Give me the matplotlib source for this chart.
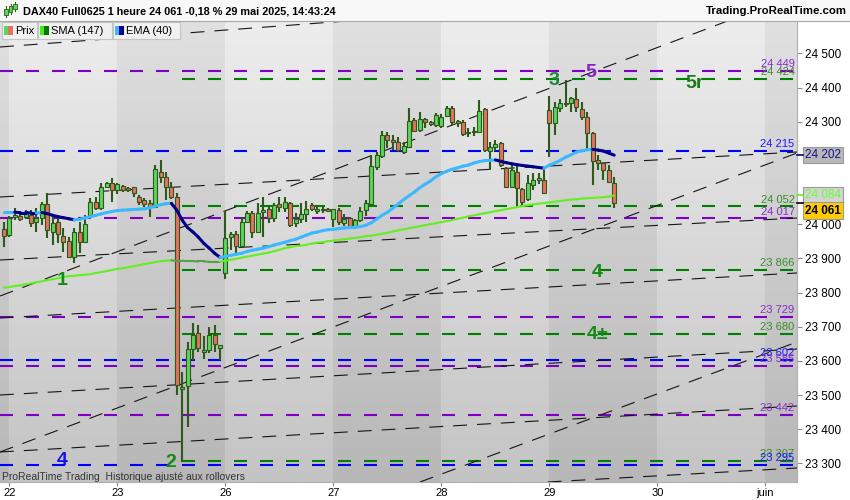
import numpy as np
import matplotlib.pyplot as plt
from matplotlib.patches import Rectangle
from matplotlib.collections import LineCollection

plt.rcParams['font.family'] = ['Liberation Sans', 'DejaVu Sans']

# hourly candles, DAX40 Full0625
opens = [23985, 23968, 24020, 24023, 24020, 24026, 24006, 24018, 24059, 23977,
         24006, 23965, 23950, 23903, 23977, 23947, 24026, 24064, 24047, 24108,
         24120, 24100, 24111, 24105, 24108, 24079, 24070, 24061, 24050, 24152,
         24138, 24108, 24079, 23517, 23526, 23634, 23681, 23625, 23631, 23675,
         23637, 23857, 23962, 23971, 23936, 24006, 24032, 23977, 24035, 24044,
         24018, 24059, 24047, 24061, 24003, 24015, 24029, 24056, 24038, 24044,
         24044, 24015, 24041, 24003, 24018, 23991, 24012, 24041, 24059, 24167,
         24199, 24260, 24246, 24240, 24211, 24225, 24304, 24275, 24307, 24298,
         24290, 24287, 24316, 24340, 24301, 24298, 24266, 24269, 24269, 24336,
         24214, 24225, 24237, 24164, 24108, 24152, 24102, 24073, 24114, 24129,
         24129, 24334, 24296, 24339, 24351, 24354, 24366, 24336, 24313, 24266,
         24187, 24179, 24158, 24120]
highs = [24006, 24023, 24047, 24038, 24041, 24041, 24047, 24064, 24091, 24020,
         24018, 23988, 23962, 23988, 24006, 24026, 24076, 24079, 24120, 24123,
         24135, 24120, 24114, 24108, 24108, 24085, 24076, 24070, 24173, 24187,
         24152, 24123, 24091, 23567, 23655, 23710, 23704, 23672, 23698, 23704,
         23646, 24038, 23977, 23980, 24020, 24038, 24038, 24061, 24079, 24050,
         24061, 24079, 24079, 24064, 24032, 24061, 24067, 24061, 24056, 24050,
         24047, 24044, 24047, 24029, 24020, 24015, 24050, 24070, 24202, 24211,
         24272, 24269, 24260, 24255, 24240, 24339, 24310, 24328, 24310, 24301,
         24325, 24322, 24345, 24345, 24305, 24304, 24281, 24284, 24363, 24339,
         24240, 24246, 24240, 24167, 24173, 24173, 24105, 24143, 24149, 24149,
         24158, 24375, 24357, 24366, 24421, 24372, 24398, 24357, 24328, 24269,
         24202, 24179, 24173, 24138]
lows = [23933, 23962, 24012, 24009, 24015, 23991, 23977, 23997, 23959, 23939,
        23944, 23918, 23903, 23886, 23915, 23947, 24020, 24041, 24041, 24105,
        24064, 24088, 24094, 24094, 24079, 24056, 24050, 24020, 24047, 24120,
        24070, 24073, 23499, 23303, 23406, 23602, 23625, 23605, 23622, 23625,
        23602, 23839, 23924, 23915, 23933, 24003, 23959, 23974, 23962, 24003,
        24006, 24035, 24035, 23991, 23991, 24003, 24006, 24038, 24029, 24032,
        24035, 23991, 23997, 23994, 23991, 23985, 24006, 24023, 24056, 24158,
        24193, 24222, 24217, 24211, 24205, 24222, 24269, 24269, 24281, 24287,
        24284, 24281, 24313, 24290, 24284, 24257, 24255, 24258, 24266, 24211,
        24158, 24214, 24167, 24105, 24105, 24050, 24050, 24067, 24100, 24117,
        24088, 24196, 24260, 24328, 24342, 24328, 24328, 24304, 24217, 24114,
        24158, 24129, 24120, 24047]
closes = [23965, 24018, 24026, 24015, 24032, 24003, 24018, 24059, 23982, 24003,
          23971, 23947, 23903, 23977, 23947, 24000, 24064, 24047, 24108, 24120,
          24100, 24117, 24100, 24100, 24091, 24064, 24059, 24050, 24161, 24138,
          24108, 24079, 23529, 23523, 23634, 23675, 23637, 23631, 23675, 23649,
          23646, 23959, 23971, 23936, 24006, 24032, 23977, 24032, 24041, 24018,
          24056, 24050, 24064, 23997, 24015, 24029, 24044, 24044, 24044, 24041,
          24038, 24044, 24006, 24015, 23994, 24012, 24038, 24061, 24170, 24202,
          24260, 24246, 24240, 24217, 24228, 24301, 24272, 24307, 24298, 24292,
          24319, 24313, 24340, 24298, 24296, 24263, 24269, 24272, 24331, 24217,
          24225, 24234, 24173, 24108, 24158, 24105, 24064, 24120, 24129, 24135,
          24091, 24296, 24342, 24354, 24354, 24369, 24342, 24313, 24266, 24184,
          24179, 24158, 24123, 24061]

ema40 = [24035, 24035, 24035, 24034, 24034, 24033, 24033, 24034, 24031, 24026,
         24022, 24019, 24016, 24013, 24014, 24018, 24022, 24026, 24030, 24034,
         24037, 24040, 24041, 24042, 24043, 24044, 24045, 24048, 24053, 24057,
         24060, 24061, 24041, 24012, 23990, 23977, 23962, 23944, 23930, 23915,
         23903, 23905, 23909, 23912, 23915, 23920, 23924, 23927, 23930, 23934,
         23939, 23943, 23947, 23952, 23956, 23962, 23968, 23974, 23977, 23981,
         23984, 23985, 23987, 23989, 23990, 23991, 23993, 23997, 24004, 24015,
         24026, 24035, 24047, 24059, 24072, 24083, 24094, 24107, 24117, 24127,
         24139, 24148, 24155, 24161, 24165, 24170, 24173, 24179, 24183, 24186,
         24187, 24188, 24184, 24180, 24177, 24174, 24172, 24170, 24168, 24166,
         24164, 24173, 24179, 24187, 24196, 24203, 24211, 24215, 24218, 24219,
         24217, 24214, 24208, 24202]
sma147 = [23814, 23816, 23819, 23821, 23824, 23827, 23830, 23833, 23836, 23839,
          23842, 23845, 23848, 23849, 23851, 23852, 23854, 23857, 23860, 23863,
          23866, 23869, 23871, 23874, 23877, 23880, 23883, 23886, 23889, 23892,
          23893, 23894, 23893, 23893, 23892, 23892, 23891, 23891, 23890, 23890,
          23890, 23893, 23896, 23899, 23902, 23905, 23908, 23911, 23914, 23917,
          23921, 23925, 23930, 23933, 23936, 23937, 23940, 23943, 23946, 23947,
          23950, 23952, 23954, 23956, 23958, 23960, 23962, 23965, 23966, 23969,
          23972, 23975, 23979, 23982, 23985, 23988, 23991, 23994, 23997, 24000,
          24003, 24006, 24009, 24012, 24016, 24019, 24023, 24026, 24029, 24032,
          24035, 24038, 24041, 24044, 24047, 24050, 24053, 24056, 24058, 24060,
          24062, 24064, 24066, 24068, 24070, 24072, 24073, 24075, 24076, 24077,
          24078, 24079, 24081, 24084]

day_ticks = [1, 21, 41, 61, 81, 101, 121, 141]
day_labels = ['22', '23', '26', '27', '28', '29', '30', 'juin']

# horizontal levels: value, kind (p=purple, g=green, b=blue)
levels = [24449, 24424, 24215, 24052, 24017, 23866, 23729, 23680, 23602, 23585, 23442, 23307, 23295]
level_kind = ['p', 'g', 'b', 'g', 'p', 'g', 'p', 'g', 'b', 'p', 'p', 'g', 'b']
green_start = 33

# trend lines, two points each (candle index, price)
trend_lines = [((-0.74, 24518.6), (60.93, 24591.8)),
               ((-0.74, 24079.6), (146.85, 24211.3)),
               ((-0.74, 23789.8), (133.5, 24591.8)),
               ((-0.74, 23895.2), (146.85, 24018.1)),
               ((-0.74, 23333.3), (146.85, 24208.4)),
               ((-0.74, 23500.1), (146.85, 23634.7)),
               ((-0.74, 23725.5), (146.85, 23857.2)),
               ((-0.74, 23333.3), (146.85, 23467.9)),
               ((77.04, 23245.5), (146.85, 23655.2)),
               ((97.41, 23242.6), (146.85, 23286.5))]

# wave count labels: text, x, y (baseline), colour
waves = [('1', 10.7, 23822, '#138a13'), ('2', 30.9, 23289, '#138a13'),
         ('4', 10.7, 23295, '#1414e6'), ('3', 101.8, 24407, '#1a8a3a'),
         ('5', 108.7, 24431, '#8a22c8'), ('5r', 127.8, 24398, '#1a7a1a'),
         ('4', 109.9, 23845, '#138a13'), ('4±', 109.9, 23664, '#138a13')]

line_col = {'p': '#7d00c4', 'g': '#008000', 'b': '#0000ff'}
text_col = {'p': '#8a2bd0', 'g': '#3c8c28', 'b': '#1a1aff'}

W, H = 850, 500
fig = plt.figure(figsize=(8.5, 5), dpi=100, facecolor='white')
ax = fig.add_axes([0, 18 / H, 797 / W, 461 / H])
xmin, xmax = -0.74, 146.85
ymin, ymax = 23245.5, 24594.7

def fy(py):
    return 1 - py / H

# shaded day bands with vertical gradient
edges = [xmin] + day_ticks + [xmax]
t = np.linspace(0, 1, 200).reshape(-1, 1, 1)
for k in range(len(edges) - 1):
    top, bot = (224, 183) if k % 2 == 0 else (237, 196)
    img = np.repeat((top + (bot - top) * t) / 255.0, 3, axis=2)
    ax.imshow(img, extent=[edges[k], edges[k + 1], ymin, ymax], aspect='auto',
              origin='upper', zorder=0, interpolation='bilinear')

# horizontal dashed levels
for lv, kd in zip(levels, level_kind):
    x0 = green_start if kd == 'g' else xmin
    ax.plot([x0, 146.1], [lv, lv], color=line_col[kd], lw=1.5,
            linestyle=(0, (6.24, 6.24)), zorder=2, dash_capstyle='butt')
    ax.annotate(f'{lv:,}'.replace(',', ' '), xy=(146.4, lv), xytext=(0, 2.8),
                textcoords='offset points', ha='right', va='baseline',
                fontsize=8, color=text_col[kd], zorder=6)

# black dashed trend lines
for p1, p2 in trend_lines:
    ax.axline(p1, p2, color='#151515', lw=0.8, linestyle=(0, (12.5, 9)), zorder=3)

# candles
x = np.arange(len(opens))
o, h, l, c = map(np.array, (opens, highs, lows, closes))
edge = '#2d5a1a'
ax.vlines(x, l, h, color=edge, lw=1.5, zorder=4)
up = c >= o
body_lo = np.minimum(o, c)
body_h = np.maximum(np.abs(c - o), 3)
ax.bar(x, body_h, bottom=body_lo, width=0.72,
       color=np.where(up, '#5ad65a', '#e8705f'), edgecolor=edge, linewidth=0.8, zorder=5)

# moving averages coloured by slope
def ma_lines(vals, c_up, c_dn, lw):
    v = np.array(vals, dtype=float)
    pts = np.column_stack([x, v])
    segs = [pts[i:i + 2] for i in range(len(v) - 1)]
    cols, last = [], c_up
    for i in range(len(v) - 1):
        d = v[i + 1] - v[i]
        if d > 0:
            last = c_up
        elif d < 0:
            last = c_dn
        cols.append(last)
    ax.add_collection(LineCollection(segs, colors=cols, linewidths=lw,
                                     capstyle='round', joinstyle='round', zorder=7))

ma_lines(sma147, '#66ee22', '#5a9e48', 1.5)
ma_lines(ema40, '#3cb8ff', '#000088', 2.2)

for txt, wx, wy, col in waves:
    ax.text(wx, wy, txt, ha='center', va='baseline', fontsize=14,
            fontweight='bold', color=col, zorder=8)

ax.set_xlim(xmin, xmax)
ax.set_ylim(ymin, ymax)

# axes
ax.set_xticks(day_ticks)
ax.set_xticklabels(day_labels)
yt = [23300, 23400, 23500, 23600, 23700, 23800, 23900, 24000, 24300, 24400, 24500]
ax.set_yticks(yt)
ax.set_yticklabels([f'{v:,}'.replace(',', ' ') for v in yt])
for lab, v in zip(ax.get_yticklabels(), yt):
    if v % 500 == 0:
        lab.set_fontweight('bold')
ax.yaxis.tick_right()
ax.tick_params(axis='y', length=3.6, width=0.8, color='#888888', pad=2, labelsize=8.5)
ax.tick_params(axis='x', length=3, width=0.8, color='#888888', pad=1.5, labelsize=8)
for s in ['left', 'top']:
    ax.spines[s].set_visible(False)
for s in ['right', 'bottom']:
    ax.spines[s].set_color('#b0b0b0')

# last-value boxes on the price scale (the lower one pushed down to avoid overlap)
boxes = [(24202, '#14148c', '#b8b8b8', 'normal', 0, '#000088'),
         (24084, '#66ff33', '#d4d4d4', 'normal', 0, '#66ee22'),
         (24061, '#000000', '#ffcc00', 'bold', -5.2, '#000000')]
for val, tc, bc, fw, dy, mc in boxes:
    ax.annotate(f'{val:,}'.replace(',', ' '), xy=(1, val), xycoords=('axes fraction', 'data'),
                xytext=(5.8, dy), textcoords='offset points', ha='left', va='center',
                fontsize=8.5, color=tc, fontweight=fw, annotation_clip=False,
                bbox=dict(boxstyle='square,pad=0.18', fc=bc, ec='#9a9a9a', lw=0.8))
    ax.plot([1, 1.0075], [val, val], transform=ax.get_yaxis_transform(), color=mc,
            lw=1.2, clip_on=False, zorder=9)

# header bar
fig.add_artist(Rectangle((0, fy(21)), 1, 21 / H, transform=fig.transFigure,
                         fc='#f8f8f8', ec='none', zorder=10))
fig.add_artist(plt.Line2D([0, 1], [fy(21), fy(21)], transform=fig.transFigure,
                          color='#a8a8a8', lw=0.8, zorder=11))
for cx, y0, y1, b0, b1 in [(6, 6, 17, 9, 15), (10.5, 4, 14, 6, 12), (15, 2, 11, 4, 9)]:
    fig.add_artist(plt.Line2D([cx / W, cx / W], [fy(y1), fy(y0)], transform=fig.transFigure,
                              color='#2d5a1a', lw=0.8, zorder=11))
    fig.add_artist(Rectangle(((cx - 1.6) / W, fy(b1)), 3.2 / W, (b1 - b0) / H,
                             transform=fig.transFigure, fc='#5ad65a', ec='#2d5a1a',
                             lw=0.6, zorder=12))
fig.text(23 / W, fy(11), 'DAX40 Full0625 1 heure 24 061 -0,18 % 29 mai 2025, 14:43:24',
         fontsize=7.8, fontweight='bold', va='center', ha='left', zorder=12)
fig.text(847 / W, fy(11), 'Trading.ProRealTime.com', fontsize=8.2, fontweight='bold',
         va='center', ha='right', zorder=12)

# legend row
legend = [(2, 35, 'Prix', '#5ad65a', '#e8705f'),
          (38, 74, 'SMA (147)', '#44ee11', '#007700'),
          (113, 67, 'EMA (40)', '#3cb8ff', '#000099')]
for lx, lw_, name, c1, c2 in legend:
    fig.add_artist(Rectangle((lx / W, fy(39)), lw_ / W, 17 / H, transform=fig.transFigure,
                             fc='#f0f0f0', ec='#c4c4c4', lw=0.8, zorder=10))
    fig.add_artist(Rectangle(((lx + 1.5) / W, fy(35)), 4.5 / W, 9 / H,
                             transform=fig.transFigure, fc=c1, ec='none', zorder=11))
    fig.add_artist(Rectangle(((lx + 6) / W, fy(35)), 4.5 / W, 9 / H,
                             transform=fig.transFigure, fc=c2, ec='none', zorder=11))
    fig.text((lx + 13) / W, fy(30.5), name, fontsize=8, va='center', ha='left', zorder=12)

fig.text(2 / W, fy(479.5), 'ProRealTime Trading  Historique ajusté aux rollovers',
         fontsize=7.5, color='#333333', va='baseline', ha='left', zorder=12)

fig.savefig('out.png', dpi=100, facecolor='white')
